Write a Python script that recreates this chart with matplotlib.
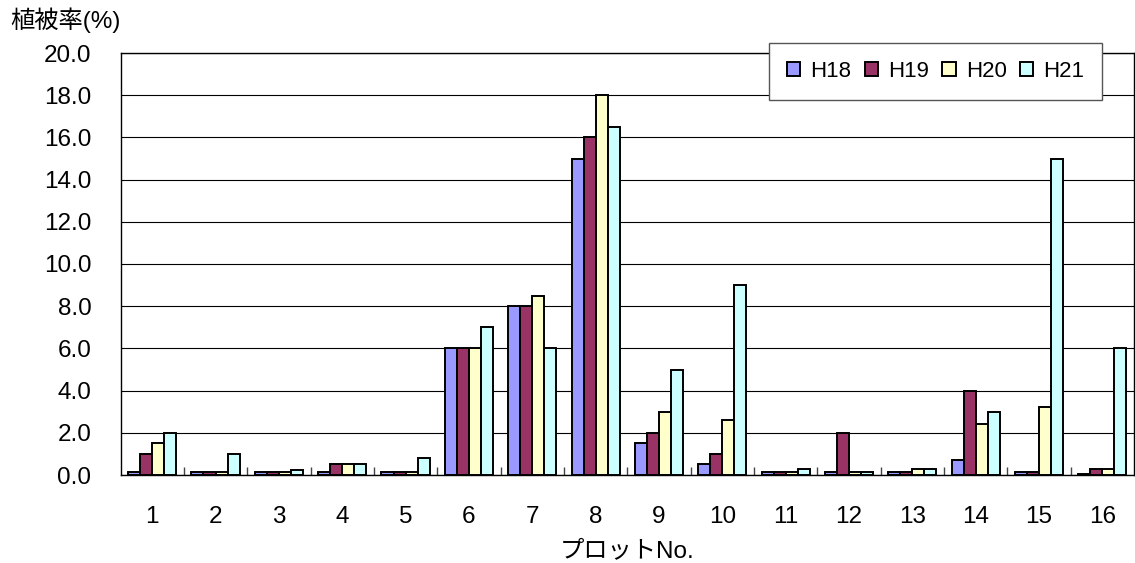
import numpy as np
import matplotlib

matplotlib.use('agg')
from matplotlib import pyplot as plt

plt.rcParams['font.family'] = ['Liberation Sans', 'Noto Sans CJK JP', 'DejaVu Sans']

plots = [str(i) for i in range(1, 17)]
years = ['H18', 'H19', 'H20', 'H21']
h18 = [0.15, 0.15, 0.15, 0.15, 0.15, 6.0, 8.0, 15.0, 1.5, 0.5, 0.15, 0.15, 0.15, 0.7, 0.15, 0.05]
h19 = [1.0, 0.15, 0.15, 0.5, 0.15, 6.0, 8.0, 16.0, 2.0, 1.0, 0.15, 2.0, 0.15, 4.0, 0.15, 0.3]
h20 = [1.5, 0.15, 0.15, 0.5, 0.15, 6.0, 8.5, 18.0, 3.0, 2.6, 0.15, 0.15, 0.3, 2.4, 3.2, 0.3]
h21 = [2.0, 1.0, 0.25, 0.5, 0.8, 7.0, 6.0, 16.5, 5.0, 9.0, 0.3, 0.15, 0.3, 3.0, 15.0, 6.0]
colors = ['#9999FF', '#993366', '#FFFFCC', '#CCFFFF']

fs = 17.5
fig = plt.figure(figsize=(11.35, 5.63), dpi=100)
ax = fig.add_axes([120.5 / 1135, 1 - 475 / 563, 1013.5 / 1135, 422 / 563])

x = np.arange(len(plots))
w = 0.19
for i, (vals, c, lab) in enumerate(zip([h18, h19, h20, h21], colors, years)):
    ax.bar(x + (i - 1.5) * w, vals, w, color=c, edgecolor='black',
           linewidth=1.4, label=lab, zorder=3)

ax.set_xlim(-0.5, 15.5)
ax.set_ylim(0, 20)
ax.set_yticks(np.arange(0, 20.1, 2))
ax.set_yticklabels(['%.1f' % v for v in np.arange(0, 20.1, 2)])
ax.yaxis.grid(True, color='black', linewidth=0.8, zorder=0)
ax.tick_params(axis='y', length=0, pad=21, labelsize=fs)
ax.set_xticks(x)
ax.set_xticklabels(plots)
ax.tick_params(axis='x', length=0, pad=22, labelsize=fs)
ax.set_xticks(np.arange(0.5, 15.5, 1), minor=True)
ax.tick_params(axis='x', which='minor', direction='in', length=6, width=1, color='#444444')
for s in ax.spines.values():
    s.set_color('black')
    s.set_linewidth(1)

ax.set_xlabel('プロットNo.', fontsize=fs, labelpad=9)
fig.text(10 / 1135, 1 - 20 / 563, '植被率(%)', fontsize=fs, va='center', ha='left')

leg = ax.legend(ncol=4, loc='upper right', bbox_to_anchor=((1102 - 120.5) / 1013.5, (475 - 43) / 422),
                fontsize=16, frameon=True, fancybox=False, handlelength=0.6,
                handleheight=0.6, handletextpad=0.45, columnspacing=0.6,
                borderpad=0.8, borderaxespad=0)
leg.get_frame().set_edgecolor('#555555')
leg.get_frame().set_linewidth(1)
leg.get_frame().set_alpha(1)
leg.set_zorder(5)

plt.savefig('out.png', dpi=100)
